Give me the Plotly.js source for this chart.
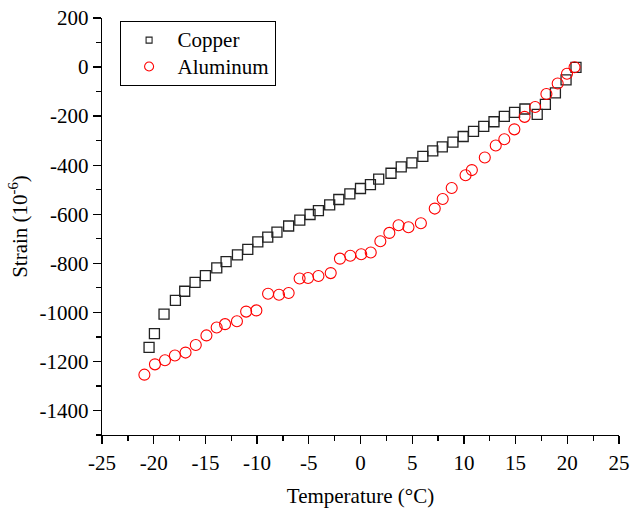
<!DOCTYPE html>
<html><head><meta charset="utf-8">
<script src="https://cdn.plot.ly/plotly-3.0.1.min.js"></script>
<style>body{margin:0;background:#fff}#c{width:641px;height:509px}</style>
</head><body><div id="c"></div>
<script>
const copperT = [-20.45,-19.93,-19.0,-17.9,-17.0,-16.0,-15.0,-13.9,-13.0,-11.9,-10.9,-9.93,-8.97,-8.08,-6.95,-5.87,-4.88,-4.07,-2.98,-2.1,-1.03,0,0.96,1.76,2.95,3.94,4.97,6.03,6.99,7.91,8.94,9.93,10.93,11.92,12.91,13.91,14.9,15.9,17.09,17.88,18.85,19.88,20.84];
const copperS = [-1143,-1087,-1007,-951,-914,-878,-850,-819,-793,-766,-743,-713,-693,-673,-648,-624,-601,-585,-562,-540,-517,-495,-479,-457,-433,-407,-391,-364,-342,-325,-306,-283,-262,-242,-223,-201,-185,-171,-193,-152,-105,-52,-1];
const aluT = [-20.9,-19.88,-18.91,-17.95,-16.92,-15.93,-14.9,-13.91,-13.1,-11.95,-11.06,-10.07,-8.94,-7.88,-6.95,-5.89,-5.07,-4.07,-2.88,-1.99,-0.99,0.07,0.99,1.92,2.79,3.68,4.64,5.84,7.18,7.95,8.82,10.16,10.77,12.02,13.08,13.91,14.88,15.87,16.89,17.98,19.07,19.97,20.7];
const aluS = [-1254,-1212,-1195,-1176,-1164,-1133,-1094,-1062,-1048,-1036,-997,-992,-924,-928,-921,-862,-860,-852,-840,-781,-769,-763,-756,-710,-676,-645,-653,-637,-577,-538,-493,-441,-420,-369,-320,-294,-254,-203,-163,-110,-67,-27,-1];

const xTickVals = [-25,-20,-15,-10,-5,0,5,10,15,20,25];
const xTickText = ['-25','-20','-15','-10','-5','0','5','10','15','20','25'];
const yTickVals = [200,0,-200,-400,-600,-800,-1000,-1200,-1400];
const yTickText = ['200','0','-200','-400','-600','-800','-1000','-1200','-1400'];
const seriesNames = ['Copper','Aluminum'];

const font = {family:'"Liberation Serif", "Times New Roman", serif', size:21, color:'#000'};
const big = n => '<span style="font-size:21px">' + n + '</span>';
const traces = [
  {x: copperT, y: copperS, name:seriesNames[0], mode:'markers', type:'scatter', showlegend:false,
   marker:{symbol:'square-open', size:10, color:'#222', line:{width:1.3}}},
  {x: aluT, y: aluS, name:seriesNames[1], mode:'markers', type:'scatter', showlegend:false,
   marker:{symbol:'circle-open', size:11, color:'#ff0000', line:{width:1.1}}},
  // legend-only entries (smaller legend symbols as in the reference)
  {x:[null], y:[null], name:big(seriesNames[0]), mode:'markers', type:'scatter',
   marker:{symbol:'square-open', size:6, color:'#222', line:{width:1.1}}},
  {x:[null], y:[null], name:big(seriesNames[1]), mode:'markers', type:'scatter',
   marker:{symbol:'circle-open', size:9, color:'#ff0000', line:{width:1.1}}}
];
const axisCommon = {showgrid:false, zeroline:false, showline:true, linecolor:'#000', linewidth:1.3,
  ticks:'outside', ticklen:8, tickwidth:1.3, tickcolor:'#000', tickfont:font, tickmode:'array'};
const layout = {
  width:641, height:509, margin:{l:102, r:22, t:18, b:74},
  paper_bgcolor:'#fff', plot_bgcolor:'#fff', font:font, showlegend:true,
  xaxis: Object.assign({}, axisCommon, {range:[-25,25], tickvals:xTickVals, ticktext:xTickText,
    minor:{tickmode:'linear', tick0:-25, dtick:2.5, ticks:'outside', ticklen:5, tickwidth:1.3, tickcolor:'#000'},
    title:{text:'Temperature (°C)', font:font, standoff:14}}),
  yaxis: Object.assign({}, axisCommon, {range:[-1500,200], tickvals:yTickVals, ticktext:yTickText,
    minor:{tickmode:'linear', tick0:0, dtick:100, ticks:'outside', ticklen:5, tickwidth:1.3, tickcolor:'#000'},
    title:{text:'Strain (10<sup>-6</sup>)', font:font, standoff:6}}),
  legend:{x:0.034, y:0.993, xanchor:'left', yanchor:'top', bordercolor:'#000', borderwidth:1,
    bgcolor:'#fff', font:Object.assign({}, font, {size:18}), tracegroupgap:0, itemwidth:47}
};
Plotly.newPlot('c', traces, layout, {displayModeBar:false, staticPlot:true});
</script></body></html>
